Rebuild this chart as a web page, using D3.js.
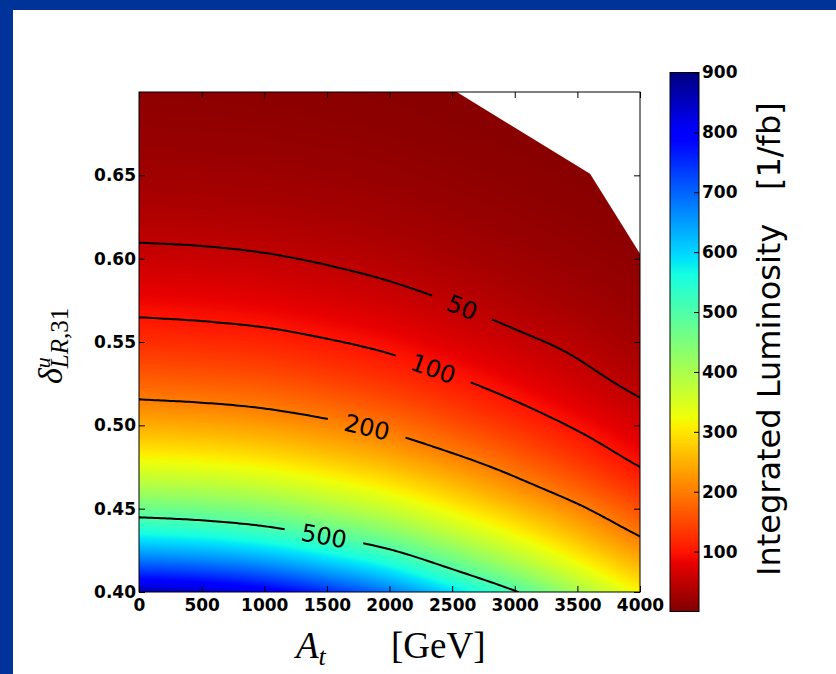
<!DOCTYPE html>
<html>
<head>
<meta charset="utf-8">
<script src="https://cdn.jsdelivr.net/npm/d3@7"></script>
<style>
  html, body { margin: 0; padding: 0; background: #fff; }
  svg { display: block; }
</style>
</head>
<body>
<svg id="chart" width="836" height="674"></svg>
<script>
// Stop trilinear coupling A_t [GeV] (columns) and mixing delta^u_LR,31 (rows)
const atValues = [0, 500, 1000, 1500, 2000, 2500, 3000, 3500, 4000];
const deltaValues = [0.400, 0.425, 0.450, 0.475, 0.500, 0.525, 0.550, 0.575, 0.600, 0.625, 0.650, 0.675, 0.700];

// Integrated luminosity [1/fb] needed, one row per delta value
const lumiRows = [
  [863, 845, 810, 753, 684, 595, 505, 408, 316],
  [637, 624, 598, 555, 504, 433, 363, 292, 225],
  [469, 458, 438, 404, 364, 312, 261, 209, 156],
  [340, 332, 317, 292, 262, 225, 184, 141, 100],
  [246, 240, 229, 211, 188, 157, 126, 95, 67],
  [176, 171, 163, 148, 130, 108, 85, 63, 43],
  [124, 120, 114, 103, 90, 73, 57, 42.5, 27.4],
  [86, 83.1, 78, 69.8, 60.3, 48.6, 37, 26.6, 17.9],
  [58.3, 56.5, 52.9, 47, 40, 31.6, 24, 17.2, 11.7],
  [38.9, 37.5, 34.9, 30.8, 26.2, 20.6, 15.6, 11.1, 7.4],
  [25.5, 24.6, 22.9, 20.2, 17.1, 13.4, 10.1, 7.1, 4.8],
  [16.8, 16.2, 15, 13.2, 11.2, 8.7, 6.5, 4.6, 3.1],
  [11, 10.6, 9.8, 8.6, 7.2, 5.6, 4.2, 3, 2]
];

// Upper edge of the scanned region (nothing computed above it)
const edgeAt = [2537, 3601, 4000];
const edgeDelta = [0.700, 0.651, 0.603];

// Contour levels and the A_t where each level is labelled
const contourLevels = [50, 100, 200, 500];
const labelAt = [2580, 2350, 1820, 1477];

const xTicks = [0, 500, 1000, 1500, 2000, 2500, 3000, 3500, 4000];
const yTicks = [0.40, 0.45, 0.50, 0.55, 0.60, 0.65];
const cbTicks = [100, 200, 300, 400, 500, 600, 700, 800, 900];
const cbRange = [0, 900];

// matplotlib "jet" breakpoints
const jetStops = [0, 0.11, 0.125, 0.34, 0.35, 0.375, 0.64, 0.65, 0.66, 0.89, 0.91, 1];
const jetColors = ["rgb(0,0,128)", "rgb(0,0,255)", "rgb(0,0,255)", "rgb(0,219,255)", "rgb(0,230,247)",
  "rgb(21,255,226)", "rgb(239,255,8)", "rgb(247,246,0)", "rgb(255,236,0)", "rgb(255,19,0)",
  "rgb(232,0,0)", "rgb(128,0,0)"];

const svg = d3.select("#chart");
const W = 836, H = 674;
const P = { left: 139, right: 640, top: 92, bottom: 592 };

const x = d3.scaleLinear().domain([0, 4000]).range([P.left, P.right]);
const y = d3.scaleLinear().domain([0.40, 0.70]).range([P.bottom, P.top]);
const cbY = d3.scaleLinear().domain(cbRange).range([611.5, 72.5]);
// high luminosity -> blue end of jet, low -> dark red end
const color = d3.scaleLinear()
  .domain(jetStops.map(t => cbRange[1] - t * (cbRange[1] - cbRange[0])))
  .range(jetColors)
  .clamp(true);

// page frame
svg.append("rect").attr("width", W).attr("height", H).attr("fill", "#fff");
svg.append("rect").attr("x", 0).attr("y", 0).attr("width", W).attr("height", 10).attr("fill", "#003399");
svg.append("rect").attr("x", 0).attr("y", 0).attr("width", 13).attr("height", H).attr("fill", "#003399");

// ---- smooth field from the luminosity table (Catmull-Rom in log space) ----
const ni = atValues.length, nj = deltaValues.length;
const logGrid = lumiRows.map(r => r.map(Math.log));
function padCol(row, i) {
  if (i < 0) return 2 * row[0] - row[1];
  if (i >= ni) return 2 * row[ni - 1] - row[ni - 2];
  return row[i];
}
const padded = [];
for (let j = -1; j <= nj; j++) {
  const row = [];
  for (let i = -1; i <= ni; i++) {
    let v;
    if (j < 0) v = 2 * padCol(logGrid[0], i) - padCol(logGrid[1], i);
    else if (j >= nj) v = 2 * padCol(logGrid[nj - 1], i) - padCol(logGrid[nj - 2], i);
    else v = padCol(logGrid[j], i);
    row.push(v);
  }
  padded.push(row);
}
function cr(p0, p1, p2, p3, t) {
  return 0.5 * (2 * p1 + (-p0 + p2) * t + (2 * p0 - 5 * p1 + 4 * p2 - p3) * t * t + (-p0 + 3 * p1 - 3 * p2 + p3) * t * t * t);
}
const dA = atValues[1] - atValues[0], dD = deltaValues[1] - deltaValues[0];
function field(a, d) {
  const fx = (a - atValues[0]) / dA, fy = (d - deltaValues[0]) / dD;
  const i = Math.min(Math.max(Math.floor(fx), 0), ni - 2), j = Math.min(Math.max(Math.floor(fy), 0), nj - 2);
  const tx = fx - i, ty = fy - j;
  const rows = [];
  for (let k = -1; k <= 2; k++) {
    const r = padded[j + k + 1];
    rows.push(cr(r[i], r[i + 1], r[i + 2], r[i + 3], tx));
  }
  return Math.exp(cr(rows[0], rows[1], rows[2], rows[3], ty));
}

// ---- clip region: plot box minus the unscanned corner ----
const regionPts = [[0, 0.40], [4000, 0.40]];
for (let k = edgeAt.length - 1; k >= 0; k--) regionPts.push([edgeAt[k], edgeDelta[k]]);
regionPts.push([0, 0.70]);
const defs = svg.append("defs");
defs.append("clipPath").attr("id", "region")
  .append("polygon").attr("points", regionPts.map(p => [x(p[0]), y(p[1])].join(",")).join(" "));
defs.append("clipPath").attr("id", "plotbox")
  .append("rect").attr("x", P.left).attr("y", P.top).attr("width", P.right - P.left).attr("height", P.bottom - P.top);

// ---- heat map ----
const pw = P.right - P.left, ph = P.bottom - P.top;
const canvas = document.createElement("canvas");
canvas.width = pw; canvas.height = ph;
const ctx = canvas.getContext("2d");
const img = ctx.createImageData(pw, ph);
const lut = d3.range(0, 901).map(v => d3.rgb(color(v)));
for (let py = 0; py < ph; py++) {
  const dv = y.invert(P.top + py + 0.5);
  for (let px = 0; px < pw; px++) {
    const av = x.invert(P.left + px + 0.5);
    const v = field(av, dv);
    const c = lut[Math.max(0, Math.min(900, Math.round(v)))];
    const o = 4 * (py * pw + px);
    img.data[o] = c.r; img.data[o + 1] = c.g; img.data[o + 2] = c.b; img.data[o + 3] = 255;
  }
}
ctx.putImageData(img, 0, 0);
svg.append("g").attr("clip-path", "url(#region)")
  .append("image")
  .attr("x", P.left).attr("y", P.top).attr("width", pw).attr("height", ph)
  .attr("preserveAspectRatio", "none")
  .attr("href", canvas.toDataURL());

// ---- contour lines ----
const nx = 161, ny = 121, sx = 25, sy = 0.0025;
const vals = new Array(nx * ny);
for (let j = 0; j < ny; j++) for (let i = 0; i < nx; i++) vals[j * nx + i] = field(i * sx, 0.40 + j * sy);
const contours = d3.contours().size([nx, ny]).thresholds(contourLevels)(vals);
const proj = d3.geoTransform({
  point(cx, cy) { this.stream.point(x((cx - 0.5) * sx), y(0.40 + (cy - 0.5) * sy)); }
});
const cpath = d3.geoPath(proj);

function levelDelta(a, level) {
  let lo = 0.40, hi = 0.70;
  for (let k = 0; k < 50; k++) {
    const mid = (lo + hi) / 2;
    if (field(a, mid) > level) lo = mid; else hi = mid;
  }
  return (lo + hi) / 2;
}

const mask = defs.append("mask").attr("id", "gaps").attr("maskUnits", "userSpaceOnUse")
  .attr("x", 0).attr("y", 0).attr("width", W).attr("height", H);
mask.append("rect").attr("width", W).attr("height", H).attr("fill", "#fff");

const lineLayer = svg.append("g").attr("clip-path", "url(#plotbox)");
const lines = lineLayer.append("g").attr("mask", "url(#gaps)");
lines.selectAll("path").data(contours).join("path")
  .attr("d", cpath)
  .attr("fill", "none")
  .attr("stroke", "#000")
  .attr("stroke-width", 2)
  .attr("stroke-linejoin", "round");

const labelLayer = svg.append("g");
contourLevels.forEach((lev, k) => {
  const a = labelAt[k];
  const d = levelDelta(a, lev);
  const p1 = [x(a - 80), y(levelDelta(a - 80, lev))], p2 = [x(a + 80), y(levelDelta(a + 80, lev))];
  const ang = Math.atan2(p2[1] - p1[1], p2[0] - p1[0]) * 180 / Math.PI;
  const g = labelLayer.append("g").attr("transform", `translate(${x(a)},${y(d)}) rotate(${ang})`);
  const t = g.append("text")
    .attr("text-anchor", "middle")
    .attr("dy", "0.36em")
    .attr("font-family", "DejaVu Sans, sans-serif")
    .attr("font-size", 24)
    .attr("fill", "#000")
    .text(String(lev));
  const tw = t.node().getComputedTextLength();
  mask.append("rect")
    .attr("x", -(tw + 34) / 2).attr("y", -14).attr("width", tw + 34).attr("height", 28)
    .attr("fill", "#000")
    .attr("transform", `translate(${x(a)},${y(d)}) rotate(${ang})`);
});

// ---- axes ----
const tickFont = g => g.selectAll("text")
  .attr("font-family", "DejaVu Sans, sans-serif")
  .attr("font-weight", "bold")
  .attr("font-size", 17)
  .attr("fill", "#000");
const tickStyle = g => { g.select(".domain").remove(); g.selectAll("line").attr("stroke", "#000"); };

svg.append("g").attr("transform", `translate(0,${P.bottom})`)
  .call(d3.axisBottom(x).tickValues(xTicks).tickFormat(d3.format("d")).tickSize(-6).tickPadding(7))
  .call(tickStyle).call(tickFont);
svg.append("g").attr("transform", `translate(0,${P.top})`)
  .call(d3.axisTop(x).tickValues(xTicks).tickFormat("").tickSize(-6))
  .call(tickStyle);
svg.append("g").attr("transform", `translate(${P.left},0)`)
  .call(d3.axisLeft(y).tickValues(yTicks).tickFormat(d3.format(".2f")).tickSize(-6).tickPadding(3))
  .call(tickStyle).call(tickFont);
svg.append("g").attr("transform", `translate(${P.right},0)`)
  .call(d3.axisRight(y).tickValues(yTicks).tickFormat("").tickSize(-6))
  .call(tickStyle);

svg.append("rect")
  .attr("x", P.left).attr("y", P.top).attr("width", pw).attr("height", ph)
  .attr("fill", "none").attr("stroke", "#000").attr("stroke-width", 1);

// axis titles
const xl = svg.append("text")
  .attr("x", 296).attr("y", 658)
  .attr("font-family", "Liberation Serif, DejaVu Serif, serif")
  .attr("font-size", 37).attr("fill", "#000");
xl.append("tspan").attr("font-style", "italic").text("A");
xl.append("tspan").attr("font-style", "italic").attr("font-size", 26).attr("dy", 7).text("t");
xl.append("tspan").attr("x", 391).attr("dy", -7).text("[GeV]");

const yl = svg.append("text")
  .attr("transform", "translate(62,384) rotate(-90)")
  .attr("font-family", "Liberation Serif, DejaVu Serif, serif")
  .attr("fill", "#000");
yl.append("tspan").attr("font-style", "italic").attr("font-size", 34).text("δ");
yl.append("tspan").attr("font-style", "italic").attr("font-size", 22).attr("dy", -12).text("u");
yl.append("tspan").attr("font-style", "italic").attr("font-size", 25).attr("dx", -11).attr("dy", 18).text("LR");
yl.append("tspan").attr("font-size", 25).text(",31");

// ---- colour bar ----
const cbX = 670, cbW = 29;
const grad = defs.append("linearGradient").attr("id", "jetbar")
  .attr("x1", 0).attr("y1", 1).attr("x2", 0).attr("y2", 0);
jetStops.slice().reverse().forEach((t, k) => {
  grad.append("stop").attr("offset", 1 - t).attr("stop-color", jetColors[jetStops.length - 1 - k]);
});
svg.append("rect")
  .attr("x", cbX).attr("y", cbY(cbRange[1])).attr("width", cbW).attr("height", cbY(cbRange[0]) - cbY(cbRange[1]))
  .attr("fill", "url(#jetbar)").attr("stroke", "#000").attr("stroke-width", 1);
svg.append("g").attr("transform", `translate(${cbX + cbW},0)`)
  .call(d3.axisRight(cbY).tickValues(cbTicks).tickFormat(d3.format("d")).tickSize(-5).tickPadding(3))
  .call(tickStyle).call(tickFont);

const cl = svg.append("text")
  .attr("transform", "translate(780,576) rotate(-90)")
  .attr("font-family", "DejaVu Sans, sans-serif")
  .attr("font-size", 32).attr("fill", "#000");
cl.append("tspan").attr("x", 0).text("Integrated Luminosity");
cl.append("tspan").attr("x", 386).text("[1/fb]");
</script>
</body>
</html>
